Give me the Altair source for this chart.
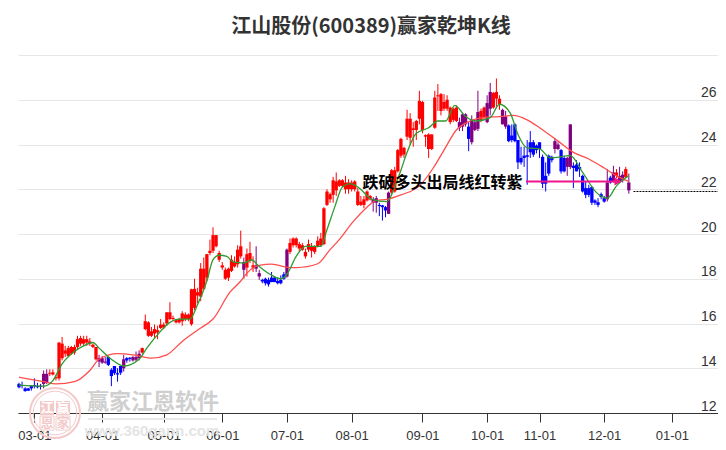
import altair as alt
import pandas as pd

title_text = "江山股份(600389)赢家乾坤K线"
signal_text = "跌破多头出局线红转紫"

body_low = [13.15,13.22,12.98,13.0,13.1,13.2,13.15,13.18,13.3,13.35,
13.75,13.72,13.55,13.55,14.45,14.65,14.55,14.65,14.7,14.95,
15.1,15.1,15.15,15.1,14.95,14.4,14.3,14.25,14.25,14.15,
13.65,13.78,13.72,13.8,14.0,14.35,14.42,14.35,14.38,14.45,
14.7,15.75,15.45,15.45,15.55,15.6,15.8,15.82,16.0,16.2,
16.2,16.05,16.05,16.1,16.2,16.2,15.97,16.7,17.25,17.2,
17.55,18.05,19.15,19.25,19.45,18.85,18.5,18.0,18.05,18.35,
18.55,18.65,19.0,18.4,18.5,18.8,18.5,18.45,18.1,17.88,
17.8,17.75,17.85,17.85,17.8,17.8,18.0,18.1,19.2,19.5,
19.5,19.35,19.3,19.0,19.3,19.25,19.2,19.45,19.5,19.55,
21.3,21.55,21.75,21.95,22.15,22.15,22.0,22.0,22.0,22.0,
21.3,21.3,21.3,21.5,21.55,21.4,21.4,21.25,21.2,21.05,
20.9,21.85,21.9,22.8,23.5,23.55,24.35,24.3,24.65,24.65,
25.15,24.65,24.35,23.8,23.8,24.75,26.15,25.5,25.6,25.6,
25.0,25.1,25.05,24.75,24.8,24.9,24.25,24.1,24.65,24.7,
25.1,25.2,25.0,25.6,25.65,26.05,25.8,24.9,24.8,24.15,
24.2,24.15,23.2,23.2,23.4,23.45,23.65,23.55,23.75,23.8,
22.25,22.25,22.7,23.3,23.8,23.8,22.8,22.8,23.0,23.0,
22.95,22.8,22.9,21.9,21.75,21.75,21.4,21.4,21.3,21.65,
21.45,21.55,22.3,22.35,22.6,22.35,22.4,22.55,21.95]

body_high = [13.3,13.25,13.1,13.1,13.2,13.25,13.2,13.22,13.75,13.75,
13.8,13.82,13.6,15.15,15.1,14.8,14.9,14.95,14.95,15.3,
15.35,15.3,15.3,15.2,15.05,14.95,14.45,14.45,14.3,14.5,
13.93,14.1,13.78,14.1,14.4,14.45,14.47,14.5,14.5,14.65,
14.9,16.1,16.05,15.65,15.75,15.7,15.95,15.95,16.5,16.5,
16.25,16.15,16.2,16.45,16.4,16.4,17.53,17.55,17.4,18.45,
18.45,19.1,19.25,19.95,19.95,19.15,18.6,18.4,18.45,18.85,
18.75,19.3,19.45,18.75,19.1,19.15,18.6,18.6,18.25,17.95,
18.0,17.95,18.05,18.05,17.9,17.95,18.2,19.3,19.6,19.8,
19.8,19.55,19.5,19.2,19.55,19.45,19.45,19.7,19.8,21.15,
21.9,21.78,22.4,22.35,22.4,22.4,22.3,22.3,22.3,22.35,
21.9,21.45,21.55,21.9,21.7,21.55,21.6,21.3,21.28,21.2,
21.85,22.85,22.85,23.75,24.25,23.85,25.15,25.15,24.72,25.05,
25.95,25.9,24.42,24.45,24.45,26.1,26.2,26.25,25.9,26.0,
25.65,25.6,25.65,25.0,25.35,25.35,24.8,25.1,25.0,25.45,
25.5,25.65,25.85,26.35,26.3,26.35,26.05,25.55,25.25,24.85,
24.4,24.9,24.2,23.4,23.5,23.52,24.1,24.1,23.95,24.1,
23.45,22.6,23.5,23.45,24.15,24.0,23.75,23.4,23.4,24.9,
23.05,23.1,23.0,22.6,22.05,22.05,22.1,21.5,21.42,21.78,
21.6,22.3,22.52,22.75,22.75,22.6,22.65,22.9,22.3]

wick_high = [13.35,13.4,13.15,13.12,13.25,13.55,13.35,13.3,13.9,13.95,
13.95,13.95,13.7,15.15,15.4,15.0,15.0,15.0,15.05,15.45,
15.45,15.45,15.45,15.35,15.1,14.95,14.6,14.55,14.5,14.5,
14.0,14.1,14.0,14.1,14.6,14.5,14.5,14.55,14.75,14.8,
14.92,16.4,16.1,15.85,15.95,15.9,16.2,16.05,16.5,16.95,
16.35,16.2,16.25,16.55,16.5,16.45,17.55,18.0,17.6,18.7,
18.95,19.1,19.75,20.3,19.95,19.25,18.75,18.5,18.5,19.05,
19.0,19.5,20.15,18.95,19.35,19.65,19.0,19.45,18.4,18.0,
18.05,18.05,18.3,18.1,18.05,18.15,18.3,19.35,19.8,19.85,
19.85,19.65,19.6,19.35,19.75,19.6,19.5,19.9,20.05,21.2,
22.0,21.85,22.55,22.75,22.45,22.45,22.6,22.45,22.4,22.4,
22.05,21.7,21.7,21.95,21.75,21.65,21.7,21.4,21.3,21.25,
21.9,22.9,23.0,23.8,24.3,23.9,25.55,25.4,25.0,25.1,
26.4,25.95,24.45,24.5,24.45,26.4,26.7,26.3,26.25,26.2,
25.7,25.65,25.75,25.2,25.4,25.4,25.0,25.3,25.1,26.4,
25.6,25.7,26.2,26.75,26.35,26.95,26.2,25.6,25.5,24.9,
24.9,24.95,24.2,23.9,23.9,24.2,24.6,24.2,24.0,24.1,
23.55,23.2,23.55,23.5,24.3,24.1,23.8,23.5,23.45,24.9,
23.2,23.3,23.2,22.65,22.35,22.2,22.15,21.55,21.6,21.85,
21.7,22.9,22.6,23.05,22.9,23.0,22.8,23.0,22.7]

wick_low = [13.1,13.1,12.95,12.98,13.0,13.1,13.1,13.05,13.1,13.3,
13.65,13.68,13.45,13.45,14.35,14.5,14.5,14.6,14.6,14.85,
15.0,15.0,15.0,15.0,14.9,14.35,14.05,14.2,14.2,14.1,
13.2,13.7,13.4,13.7,13.85,14.25,14.3,14.3,14.3,14.35,
14.65,15.7,15.4,15.4,15.35,15.3,15.75,15.75,15.9,16.15,
16.1,16.0,16.0,15.9,16.1,16.1,15.9,16.6,16.9,17.0,
17.5,17.9,19.05,19.15,19.4,18.75,18.4,17.95,17.9,18.3,
18.5,18.5,18.9,18.0,18.1,18.7,18.3,18.3,17.95,17.8,
17.7,17.65,17.85,17.85,17.75,17.75,17.95,18.05,19.1,19.4,
19.4,19.2,19.25,18.9,19.2,18.95,19.1,19.4,19.45,19.5,
21.25,21.4,21.4,21.7,22.1,22.1,21.8,21.8,21.9,21.9,
21.25,21.25,21.15,21.45,21.5,21.0,20.95,20.8,20.6,20.75,
20.9,21.8,21.85,22.75,23.4,23.4,24.2,24.0,23.9,24.2,
24.9,24.5,23.9,23.4,23.75,24.7,25.5,25.3,25.5,25.5,
24.9,25.0,25.0,24.6,24.6,24.8,23.7,24.0,24.6,24.6,
25.0,25.1,24.95,25.3,25.6,25.7,25.55,24.9,24.7,24.1,
24.1,24.1,22.9,23.1,23.0,22.2,23.4,23.45,23.6,23.4,
22.05,21.9,22.6,23.2,23.6,23.75,22.7,22.75,22.6,22.9,
22.05,22.8,22.55,21.85,21.6,21.65,21.3,21.3,21.2,21.55,
21.4,21.45,22.25,22.3,22.5,22.3,22.3,22.5,21.8]

tones = ("bbbbbbbbpp" "rrrrrrrrrr" "rrrrrrpppb" "bbbbpbbppp"
         "rrrrrrrrrr" "rrrrrrrrrr" "rrrrrrrrrr" "rrrprrrppb" "bbbbbbbprr"
         "rrrrrrrrrr" "rrrrrrrrrr" "rrrrrppbbb" "prrrrrrrrr" "rrrrrrrrrr"
         "rrrpppbppp" "rrpprrrppb" "bbbbbbbbbb" "bbbbppbbpp" "bbbbbbbbbb"
         "bpbprpprp")

ma_red_i = [0,8,12,18,23,26,32,37,43,48,53,59,63,68.5,72,74,78,82,88,90,97,101,104,108.5,113,116,119.5,124,130,134.5,138,142,146.5,150.5,156,160.5,165,169,175,180,185,190,194,198]
ma_red_v = [13.6,13.4,13.3,13.4,13.9,14.4,14.65,14.6,14.45,14.6,15.2,15.8,16.2,17.4,17.9,18.25,18.6,18.65,18.5,18.5,18.67,19.3,19.75,20.55,21.2,21.5,21.55,21.75,22.15,22.95,23.75,24.65,25.05,25.2,25.25,25.3,25.1,24.75,24.15,23.65,23.35,22.95,22.6,22.35]
ma_green_i = [0,8,11,14,18,21,24,26,30,34,39,41.5,45,49,52,55.5,58,61,63,65,67.5,69.5,73,75.5,78,81.5,85,87,90,93,98,100,102.5,105,107.5,110.5,114.5,119.5,122.5,124,126,129,133,136,138.5,141.5,145,148.5,153,156,159.5,162,165,169,172.5,179,183,187.5,191,194,198]
ma_green_v = [13.25,13.2,13.45,14.2,14.75,15,15.15,14.9,14.4,14.1,14.4,14.9,15.5,16.05,16.2,16.2,16.85,17.9,18.85,19.05,19,18.75,18.7,18.85,18.55,18.2,18,18.2,19,19.45,19.45,20.2,21.2,22.1,22.25,22.05,21.55,21.45,22.3,22.85,23.65,24.5,24.75,25.05,25.05,25.75,25.25,25.05,25.2,25.8,25.4,24.45,23.85,23.8,23.4,23.5,22.75,21.85,21.6,22.15,22.6]

tick_index = [5,27,47,66,87,108,131,152,169,190,212]
tick_label = ["03-01","04-01","05-01","06-01","07-01","08-01","09-01","10-01","11-01","12-01","01-01"]
y_ticks = [12,14,16,18,20,22,24,26,28]

n = min(len(body_low), len(tones))
colors = {"r": "#ff0000", "b": "#0000ff", "p": "#800080"}
df = pd.DataFrame({
    "i": list(range(n)),
    "lo": body_low[:n], "hi": body_high[:n],
    "wh": [max(a, b) for a, b in zip(wick_high[:n], body_high[:n])],
    "wl": [min(a, b) for a, b in zip(wick_low[:n], body_low[:n])],
    "c": [colors[t] for t in tones[:n]],
})

xs = alt.Scale(domain=[-0.32, 226.95], nice=False, zero=False, padding=0)
ys = alt.Scale(domain=[12, 28], nice=False, zero=False, padding=0)
label_map = "{" + ",".join(f"{i}:'{t}'" for i, t in zip(tick_index, tick_label)) + "}"
xaxis = alt.Axis(values=tick_index, labelExpr=f"{label_map}[datum.value]", title=None, grid=False,
                 tickSize=9, tickColor="#333333", domainColor="#333333", labelColor="#333333",
                 labelFont="Liberation Sans", labelFontSize=13, labelPadding=7, labelFlush=False, labelOverlap=False)
yaxis = alt.Axis(values=y_ticks, orient="right", title=None, grid=True, gridColor="#e6e6e6", domain=False, ticks=False,
                 labelExpr="datum.value == 28 ? '' : datum.value", labelAlign="right", labelPadding=-2, labelOffset=-7,
                 labelColor="#333333", labelFont="Liberation Sans", labelFontSize=14)

base = alt.Chart(df)
axes = alt.Chart(pd.DataFrame({"i": [0], "p": [12]})).mark_point(opacity=0).encode(
    x=alt.X("i:Q", scale=xs, axis=xaxis), y=alt.Y("p:Q", scale=ys, axis=yaxis))
wicks = base.mark_rule(strokeWidth=1).encode(x=alt.X("i:Q", scale=xs), y=alt.Y("wl:Q", scale=ys), y2="wh:Q",
                                            color=alt.Color("c:N", scale=None))
bodies = base.mark_bar(size=3.3).encode(x=alt.X("i:Q", scale=xs), y=alt.Y("lo:Q", scale=ys), y2="hi:Q",
                                      color=alt.Color("c:N", scale=None))
red_line = alt.Chart(pd.DataFrame({"i": ma_red_i, "v": ma_red_v})).mark_line(
    color="#ff4d4d", strokeWidth=1.3, interpolate="monotone").encode(x=alt.X("i:Q", scale=xs), y=alt.Y("v:Q", scale=ys))
green_line = alt.Chart(pd.DataFrame({"i": ma_green_i, "v": ma_green_v})).mark_line(
    color="#2e9b2e", strokeWidth=1.3, interpolate="monotone").encode(x=alt.X("i:Q", scale=xs), y=alt.Y("v:Q", scale=ys))

signal_line = alt.Chart(pd.DataFrame({"i": [164.6, 194], "v": [22.35, 22.35]})).mark_line(
    color="#f0148c", strokeWidth=2).encode(x=alt.X("i:Q", scale=xs), y=alt.Y("v:Q", scale=ys))
signal_arrow = alt.Chart(pd.DataFrame({"i": [194.5], "v": [22.35]})).mark_point(
    shape="triangle-right", filled=True, color="#f0148c", size=70, opacity=1).encode(x=alt.X("i:Q", scale=xs), y=alt.Y("v:Q", scale=ys))
dash_line = alt.Chart(pd.DataFrame({"i": [199.5, 226.9], "v": [21.9, 21.9]})).mark_line(
    color="#000000", strokeWidth=1, strokeDash=[2, 1]).encode(x=alt.X("i:Q", scale=xs), y=alt.Y("v:Q", scale=ys))
signal_label = alt.Chart(pd.DataFrame({"i": [111.5], "v": [22.3], "t": [signal_text]})).mark_text(
    align="left", baseline="middle", font="Noto Sans CJK SC", fontWeight="bold", fontSize=16, color="#000000"
).encode(x=alt.X("i:Q", scale=xs), y=alt.Y("v:Q", scale=ys), text="t:N")

def txt(t, px, py, size, color, weight="normal", align="center", font="Noto Sans CJK SC"):
    return alt.Chart(pd.DataFrame({"t": [t]})).mark_text(
        align=align, baseline="middle", font=font, fontWeight=weight, fontSize=size, color=color
    ).encode(x=alt.value(px - 18), y=alt.value(py - 55), text="t:N")

def ring(px, py, size, width):
    return alt.Chart(pd.DataFrame({"a": [1]})).mark_point(
        shape="circle", size=size, strokeWidth=width, color="#f3caca", filled=False, opacity=1, clip=False
    ).encode(x=alt.value(px - 18), y=alt.value(py - 55))

def box(px, py, size, filled):
    return alt.Chart(pd.DataFrame({"a": [1]})).mark_point(
        shape="square", size=size, strokeWidth=1, color="#f3caca", filled=filled, opacity=1, clip=False
    ).encode(x=alt.value(px - 18), y=alt.value(py - 55))

watermark = [
    ring(55, 413, 2500, 2), ring(55, 413, 1900, 1),
    box(47, 408, 196, True), box(63, 408, 196, True), box(47, 423, 196, False), box(63, 423, 196, False),
    txt("江", 47, 408, 13, "#ffffff", "bold"), txt("赢", 63, 408, 13, "#ffffff", "bold"),
    txt("恩", 47, 423, 13, "#f3caca", "bold"), txt("家", 63, 423, 13, "#f3caca", "bold"),
    txt("赢家江恩软件", 153, 402, 22, "#cfcfcf", "bold"),
    txt("www.360gann.com", 152, 431, 15, "#e4e4e4", "bold", font="Liberation Sans"),
    alt.Chart(pd.DataFrame({"a": [1]})).mark_rule(color="#e8e8e8", strokeWidth=2).encode(
        x=alt.value(88 - 18), x2=alt.value(217 - 18), y=alt.value(419 - 55)),
]
title_mark = txt(title_text, 371, 27, 20, "#333333", "bold")

chart = alt.layer(axes, *watermark, wicks, bodies, red_line, green_line, dash_line, signal_line, signal_arrow,
                  signal_label, title_mark).properties(
    width=700, height=358, padding={"left": 10, "top": 47, "right": 0, "bottom": 29},
    autosize=alt.AutoSizeParams(type="none"), background="#ffffff",
).configure_view(stroke=None)

chart.save("out.html", embed_options={"renderer": "svg", "actions": False})
